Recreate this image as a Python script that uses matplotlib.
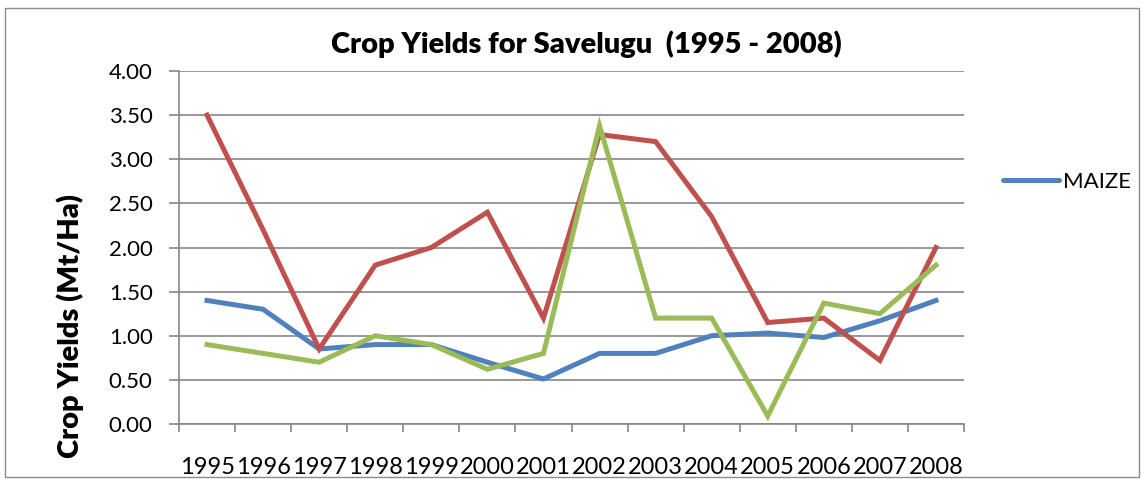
import matplotlib
matplotlib.use("Agg")
import matplotlib.pyplot as plt
from matplotlib.lines import Line2D
from matplotlib.patches import Rectangle
import numpy as np

years = ["1995", "1996", "1997", "1998", "1999", "2000", "2001",
         "2002", "2003", "2004", "2005", "2006", "2007", "2008"]
maize = [1.40, 1.30, 0.85, 0.90, 0.90, 0.70, 0.51, 0.80, 0.80, 1.00, 1.03, 0.98, 1.17, 1.40]
red_series = [3.50, 2.20, 0.85, 1.80, 2.00, 2.40, 1.20, 3.28, 3.20, 2.35, 1.15, 1.20, 0.72, 2.00]
green_series = [0.90, 0.80, 0.70, 1.00, 0.90, 0.62, 0.80, 3.38, 1.20, 1.20, 0.09, 1.37, 1.25, 1.80]
yticks = [0.0, 0.5, 1.0, 1.5, 2.0, 2.5, 3.0, 3.5, 4.0]

plt.rcParams['font.family'] = ['Lato', 'DejaVu Sans']

W, H = 1144, 479
fig = plt.figure(figsize=(W / 100, H / 100), dpi=100)
fig.patch.set_facecolor("white")

# outer chart border
fig.add_artist(Rectangle((5 / W, 1 - 477 / H), (1139 - 5) / W, (477 - 8) / H,
                         transform=fig.transFigure, fill=False,
                         edgecolor="#8c8c8c", linewidth=1.0))

left, right, top, bottom = 179, 964, 71, 424
ax = fig.add_axes([left / W, 1 - bottom / H, (right - left) / W, (bottom - top) / H])

x = np.arange(len(years))
c_blue, c_red, c_green = "#4F81BD", "#C0504D", "#9BBB59"
lw = 3.6
ax.plot(x, maize, color=c_blue, lw=lw, solid_joinstyle="miter", zorder=3)
ax.plot(x, red_series, color=c_red, lw=lw, solid_joinstyle="miter", zorder=4)
ax.plot(x, green_series, color=c_green, lw=lw, solid_joinstyle="miter", zorder=5)

ax.set_xlim(-0.5, len(years) - 0.5)
ax.set_ylim(0, 4)

gray = "#868686"
ax.set_yticks(yticks)
ax.set_yticklabels([f"{v:.2f}" for v in yticks], fontsize=16)
ax.yaxis.grid(True, color=gray, linewidth=1.2)
ax.set_axisbelow(True)
ax.tick_params(axis="y", length=7, width=1.2, color=gray, pad=12)

ax.set_xticks(np.arange(len(years) + 1) - 0.5)
ax.set_xticklabels([])
ax.set_xticks(x, minor=True)
ax.set_xticklabels(years, minor=True, fontsize=17)
ax.tick_params(axis="x", which="major", length=6, width=1.2, color=gray)
ax.tick_params(axis="x", which="minor", length=0, pad=24)

for s in ["top", "right"]:
    ax.spines[s].set_visible(False)
for s in ["left", "bottom"]:
    ax.spines[s].set_color(gray)
    ax.spines[s].set_linewidth(1.2)

fig.text(70 / W, 1 - 326 / H, "Crop Yields (Mt/Ha)", rotation=90,
         ha="center", va="center", fontsize=21, fontweight="heavy")
fig.text(586 / W, 1 - 44 / H, "Crop Yields for Savelugu  (1995 - 2008)",
         ha="center", va="center", fontsize=21, fontweight="heavy")

handle = Line2D([], [], color=c_blue, lw=lw, solid_capstyle="round")
fig.legend(handles=[handle], labels=["MAIZE"], loc="center left",
           bbox_to_anchor=(1003 / W, 1 - 182 / H), frameon=False,
           fontsize=16, handlelength=2.5, handletextpad=0.2,
           borderpad=0, borderaxespad=0)

fig.savefig("out.png", dpi=100, facecolor="white")
